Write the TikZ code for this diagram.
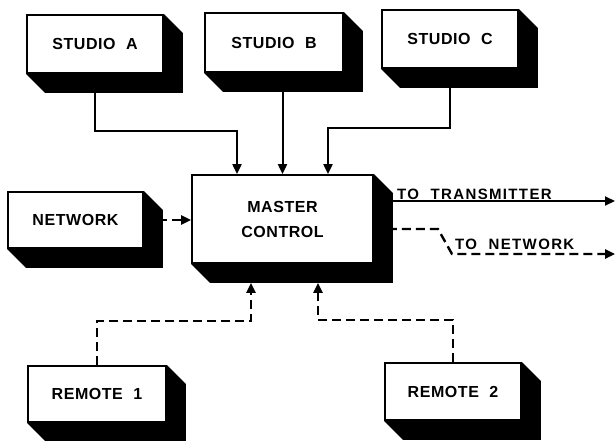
\documentclass[tikz,border=0pt]{standalone}
\usepackage{fontspec}
\setmainfont{Liberation Sans}[LetterSpace=3.5,WordSpace=2.1]
\usetikzlibrary{arrows.meta,calc,backgrounds}
\newcommand\boxextrude[1]{%
  \fill (#1.north east) -- ++(19,19) -- ($(#1.south east)+(19,19)$)
    -- ($(#1.south west)+(19,19)$) -- (#1.south west) -- (#1.south east) -- cycle;}
\begin{document}
\begin{tikzpicture}[x=1pt,y=-1pt,
  blk/.style={draw,line width=1.8pt,fill=white,inner sep=0pt,
    font=\fontsize{16}{25}\selectfont\bfseries,align=center},
  ln/.style={line width=2pt},
  arr/.style={ln,-{Triangle[length=10pt,width=9pt]}},
  darr/.style={arr,line width=2.4pt,dash pattern=on 9pt off 5pt},
  lbl/.style={font=\fontsize{15}{18}\selectfont\bfseries\addfontfeature{LetterSpace=9},inner sep=0pt}]
\useasboundingbox (0,0) rectangle (616,440);
% boxes
\node[blk,minimum width=136pt,minimum height=58pt] (sa) at (95,44) {STUDIO A};
\node[blk,minimum width=138pt,minimum height=59pt] (sb) at (274,42.5) {STUDIO B};
\node[blk,minimum width=136pt,minimum height=58pt] (sc) at (450,39) {STUDIO C};
\node[blk,minimum width=135pt,minimum height=56pt] (nw) at (75.5,220) {NETWORK};
\node[blk,minimum width=181pt,minimum height=88pt] (mc) at (282.5,219) {MASTER\\CONTROL};
\node[blk,minimum width=138pt,minimum height=56pt] (r1) at (97,394) {REMOTE 1};
\node[blk,minimum width=136pt,minimum height=57pt] (r2) at (453,391.5) {REMOTE 2};
\foreach \n in {sa,sb,sc,nw,mc,r1,r2} {\boxextrude{\n}}
% helper coordinates
\coordinate (mcb) at ($(mc.south)+(0,19)$);
\coordinate (tx) at (615,201);
\coordinate (tn) at (615,254);
% connectors
\begin{scope}[on background layer]
\fill[white] (0,0) rectangle (616,440);
\draw[arr] (sa.south) -- ++(0,57) -| ([xshift=-45.5pt]mc.north);
\draw[arr] (sb.south -| mc.north) -- (mc.north);
\draw[arr] (sc.south) -- ++(0,59) -| ([xshift=45.5pt]mc.north);
\draw[darr] (nw.east) -- (mc.west |- nw.east);
\draw[darr] (r1.north) -- ++(0,-44) -| ([xshift=-31.5pt]mcb);
\draw[darr] (r2.north) -- ++(0,-42) -| ([xshift=35.5pt]mcb);
\draw[arr] (mc.east |- tx) -- (tx);
\draw[darr] (mc.east |- 0,229) -- (438,229) -- (452,254) -- (tn);
\end{scope}
% labels
\node[lbl,anchor=base west] (ttx) at (397,199) {TO TRANSMITTER};
\node[lbl,anchor=base west] (tnw) at (455,249) {TO NETWORK};
\end{tikzpicture}
\end{document}
